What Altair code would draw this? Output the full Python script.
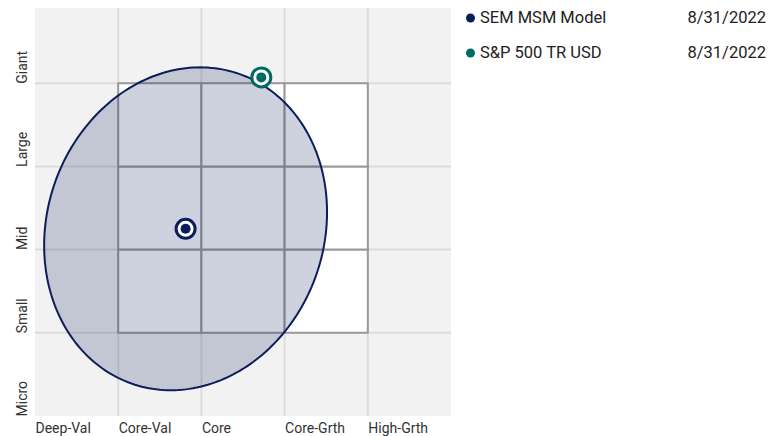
import json
import numpy as np
import pandas as pd
import altair as alt

# ---------------- data ----------------
x_labels = ["Deep-Val", "Core-Val", "Core", "Core-Grth", "High-Grth"]
y_labels = ["Micro", "Small", "Mid", "Large", "Giant"]
tick_values = [0, 1, 2, 3, 4]
grid_values = [1, 2, 3, 4]
box_edges = [1, 2, 3, 4]

series_names = ["SEM MSM Model", "S&P 500 TR USD"]
series_dates = ["8/31/2022", "8/31/2022"]
series_x = [1.81, 2.72]      # style score (value -> growth)
series_y = [2.25, 4.07]      # size score (micro -> giant)
series_colors = ["#0b1e5b", "#006a65"]

# ownership zone of the model, centred on the model point
zone_half_width = 1.70    # horizontal half extent
zone_tilt = 0.20          # vertical offset of the right-most point
zone_half_height = 1.93   # conjugate vertical half axis

FONT = "Roboto"
NAVY = series_colors[0]

W, H = 416, 408
unit = W / 5.0

xs = alt.Scale(domain=[0, 5], nice=False, zero=False)
ys = alt.Scale(domain=[0, H / unit], nice=False, zero=False)

x_axis = alt.Axis(
    values=tick_values,
    labelExpr=f"{json.dumps(x_labels)}[datum.value]",
    grid=False, ticks=False, domain=False,
    labelAlign="left", labelBaseline="top", labelPadding=5,
    labelFontSize=14, labelFont=FONT, labelColor="#333333",
    labelOverlap=False, labelFlush=False, title=None,
)
y_axis = alt.Axis(
    values=tick_values,
    labelExpr=f"{json.dumps(y_labels)}[datum.value]",
    grid=False, ticks=False, domain=False,
    labelAngle=270, labelAlign="left", labelBaseline="alphabetic", labelPadding=9,
    labelFontSize=14, labelFont=FONT, labelColor="#333333",
    labelOverlap=False, labelFlush=False, title=None,
)

grid_df = pd.DataFrame({"v": grid_values})
vgrid = alt.Chart(grid_df).mark_rule(color="#dcdcdc", strokeWidth=2).encode(
    x=alt.X("v:Q", scale=xs, axis=x_axis)
)
hgrid = alt.Chart(grid_df).mark_rule(color="#dcdcdc", strokeWidth=2).encode(
    y=alt.Y("v:Q", scale=ys, axis=y_axis)
)

cells = []
for i in range(3):
    for j in range(3):
        cells.append({"x": box_edges[i], "x2": box_edges[i + 1],
                      "y": box_edges[j], "y2": box_edges[j + 1]})
box = alt.Chart(pd.DataFrame(cells)).mark_rect(
    fill="white", stroke="#9a9a9a", strokeWidth=2
).encode(
    x=alt.X("x:Q", scale=xs, axis=x_axis), x2="x2:Q",
    y=alt.Y("y:Q", scale=ys, axis=y_axis), y2="y2:Q",
)

t = np.linspace(0, 2 * np.pi, 241)
zone_df = pd.DataFrame({
    "i": np.arange(len(t)),
    "x": series_x[0] + zone_half_width * np.cos(t),
    "y": series_y[0] + zone_tilt * np.cos(t) + zone_half_height * np.sin(t),
})
zone = alt.Chart(zone_df).mark_line(
    fill=NAVY, fillOpacity=0.2, stroke=NAVY, strokeWidth=2
).encode(
    x=alt.X("x:Q", scale=xs, axis=x_axis),
    y=alt.Y("y:Q", scale=ys, axis=y_axis),
    order="i:Q",
)

pts_df = pd.DataFrame({"name": series_names, "x": series_x, "y": series_y,
                       "date": series_dates, "row": [0, 1]})
cscale = alt.Scale(domain=series_names, range=series_colors)
ring = alt.Chart(pts_df).mark_point(
    shape="circle", filled=True, fill="white", strokeWidth=3, size=361, opacity=1
).encode(
    x=alt.X("x:Q", scale=xs, axis=x_axis),
    y=alt.Y("y:Q", scale=ys, axis=y_axis),
    stroke=alt.Stroke("name:N", scale=cscale, legend=None),
)
dot = alt.Chart(pts_df).mark_circle(size=100, opacity=1).encode(
    x=alt.X("x:Q", scale=xs, axis=x_axis),
    y=alt.Y("y:Q", scale=ys, axis=y_axis),
    color=alt.Color("name:N", scale=cscale, legend=None),
)

main = alt.layer(vgrid, hgrid, box, zone, ring, dot)

ly = alt.Scale(domain=[0, 1], range=[10, 45])
leg_dot = alt.Chart(pts_df).mark_circle(size=81, opacity=1).encode(
    x=alt.value(435.5),
    y=alt.Y("row:Q", scale=ly, axis=None),
    color=alt.Color("name:N", scale=cscale, legend=None),
)
leg_name = alt.Chart(pts_df).mark_text(
    align="left", baseline="middle", fontSize=16.5, font=FONT, color="#222222"
).encode(x=alt.value(445), y=alt.Y("row:Q", scale=ly, axis=None), text="name:N")
leg_date = alt.Chart(pts_df).mark_text(
    align="right", baseline="middle", fontSize=16.5, font=FONT, color="#222222"
).encode(x=alt.value(731), y=alt.Y("row:Q", scale=ly, axis=None), text="date:N")
legend = alt.layer(leg_dot, leg_name, leg_date)

chart = alt.layer(main, legend).resolve_scale(y="independent").properties(
    width=W, height=H,
    autosize=alt.AutoSizeParams(type="none"),
    padding={"left": 27, "top": 0, "right": 323, "bottom": 20},
).configure_view(fill="#f2f2f2", strokeWidth=0)

chart.save("out.html", embed_options={"renderer": "svg", "actions": False})
